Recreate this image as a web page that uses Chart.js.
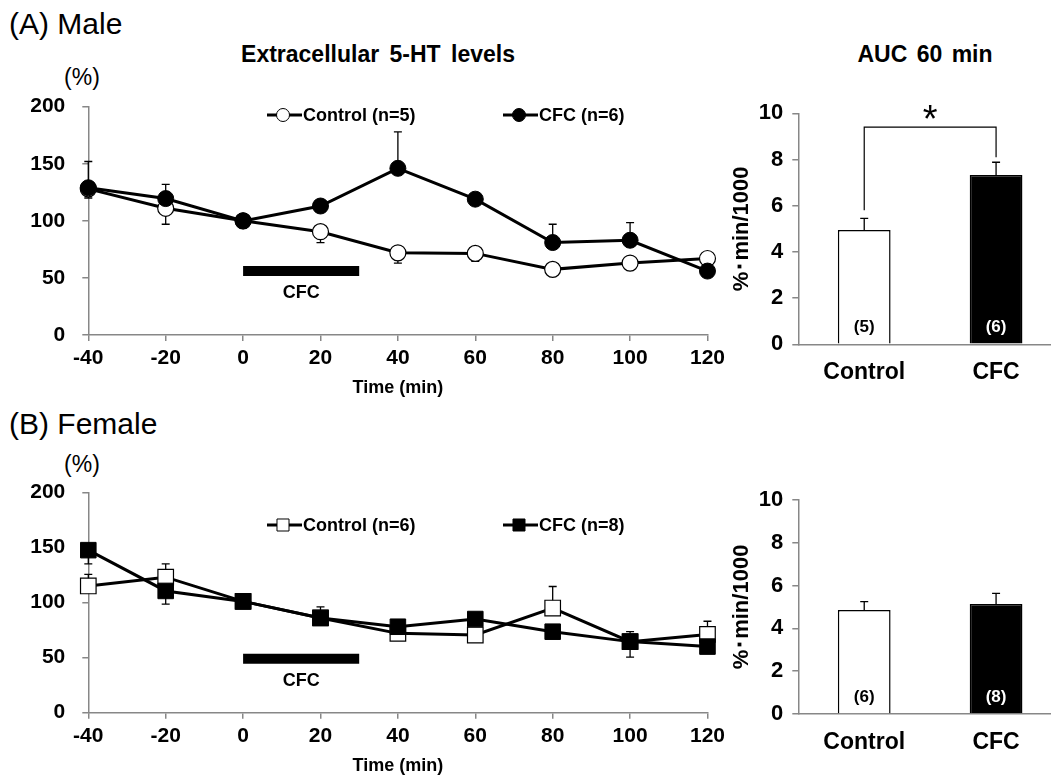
<!DOCTYPE html>
<html>
<head>
<meta charset="utf-8">
<script src="https://cdn.jsdelivr.net/npm/chart.js@4.4.1/dist/chart.umd.min.js"></script>
<style>
html, body { margin: 0; padding: 0; width: 1051px; height: 778px; overflow: hidden; background: #fff; }
.box { position: absolute; }
.box canvas { display: block; }
.lbl { position: absolute; font-family: "Liberation Sans", Arial, sans-serif; color: #000; white-space: nowrap; line-height: 1; }
.mid { transform: translate(-50%, -50%); }
</style>
</head>
<body>
<div class="lbl" style="left:9px; top:9px; font-size:30px;">(A) Male</div>
<div class="lbl" style="left:9px; top:409px; font-size:30px;">(B) Female</div>
<div class="lbl mid" style="left:378px; top:54px; font-size:23px; font-weight:bold; word-spacing:4px;">Extracellular 5-HT levels</div>
<div class="lbl mid" style="left:925px; top:54px; font-size:23px; font-weight:bold; word-spacing:3px;">AUC 60 min</div>
<div class="lbl mid" style="left:82px; top:77px; font-size:23px;">(%)</div>
<div class="lbl mid" style="left:82px; top:464px; font-size:23px;">(%)</div>

<div class="box" style="left:0; top:90px;"><canvas id="maleLine" width="730" height="320"></canvas></div>
<div class="box" style="left:715px; top:90px;"><canvas id="maleBar" width="350" height="320"></canvas></div>
<div class="box" style="left:0; top:475px;"><canvas id="femaleLine" width="730" height="303"></canvas></div>
<div class="box" style="left:715px; top:475px;"><canvas id="femaleBar" width="350" height="303"></canvas></div>

<script>
// sampling times (min)
const times = [-40, -20, 0, 20, 40, 60, 80, 100, 120];

// extracellular 5-HT, % of baseline. error arrays: SEM, sign = direction the bar is drawn
const maleControl = [128, 111, 100, 90.5, 72, 71.5, 57.5, 63, 67];
const maleControlErr = [-8, -14, 0, -9.5, -9, -7, 0, 0, 0];
const maleCFC = [129, 119.5, 100, 113, 146, 119, 81, 83, 56];
const maleCFCErr = [23, 12.5, 2, 3, 32, 4, 16, 15.5, 3];

const femaleControl = [115, 123, 101, 86, 72, 70.5, 95, 64.5, 71];
const femaleControlErr = [10.5, 12, 0, 10, 0, 0, 19.5, -14, 12];
const femaleCFC = [147.5, 110.5, 101, 86, 78, 85, 73.5, 64.5, 60];
const femaleCFCErr = [-12.5, -12, 0, 0, 0, 0, 0, 9, 0];

// CFC exposure period
const cfcPeriod = [0, 30];
const maleCfcLevel = 56;
const femaleCfcLevel = 49;

// AUC 60 min (%·min/1000)
const groups = ['Control', 'CFC'];
const maleAUC = [4.95, 7.33];
const maleAUCErr = [0.5, 0.55];
const maleN = ['(5)', '(6)'];
const femaleAUC = [4.86, 5.14];
const femaleAUCErr = [0.39, 0.5];
const femaleN = ['(6)', '(8)'];

const fam = '"Liberation Sans", Arial, sans-serif';
const gray = '#878787';

function pts(vals) {
  return times.map((t, i) => ({ x: t, y: vals[i] }));
}

// error bars behind the markers
const errorBars = {
  id: 'errorBars',
  beforeDatasetsDraw(chart) {
    const ctx = chart.ctx;
    const ys = chart.scales.y;
    chart.data.datasets.forEach((ds, i) => {
      if (!ds.errors) return;
      const meta = chart.getDatasetMeta(i);
      ctx.save();
      ctx.strokeStyle = '#000';
      ctx.lineWidth = 1.3;
      meta.data.forEach((el, j) => {
        const e = ds.errors[j];
        if (!e) return;
        const d = ds.data[j];
        const v = typeof d === 'object' ? d.y : d;
        const y1 = ys.getPixelForValue(v + e);
        ctx.beginPath();
        ctx.moveTo(el.x, el.y);
        ctx.lineTo(el.x, y1);
        ctx.moveTo(el.x - 4, y1);
        ctx.lineTo(el.x + 4, y1);
        ctx.stroke();
      });
      ctx.restore();
    });
  }
};

// legend drawn inside the plot, like the original
const inlineLegend = {
  id: 'inlineLegend',
  afterDraw(chart, args, opts) {
    if (!opts.items) return;
    const ctx = chart.ctx;
    opts.items.forEach(it => {
      const ds = chart.data.datasets[it.ds];
      ctx.save();
      ctx.strokeStyle = '#000';
      ctx.lineWidth = 3;
      ctx.beginPath();
      ctx.moveTo(it.x, opts.y);
      ctx.lineTo(it.x + 35, opts.y);
      ctx.stroke();
      ctx.fillStyle = ds.pointBackgroundColor;
      ctx.strokeStyle = '#000';
      ctx.lineWidth = 1;
      Chart.helpers.drawPoint(ctx, {
        pointStyle: ds.pointStyle,
        rotation: 0,
        radius: opts.radius,
        borderWidth: 1
      }, it.x + 16, opts.y);
      ctx.fillStyle = '#000';
      ctx.font = 'bold 18px ' + fam;
      ctx.textAlign = 'left';
      ctx.textBaseline = 'middle';
      ctx.fillText(ds.label, it.x + 36, opts.y + 1);
      ctx.restore();
    });
  }
};

// "CFC" under the exposure bar
const periodLabel = {
  id: 'periodLabel',
  afterDatasetsDraw(chart) {
    chart.data.datasets.forEach((ds, i) => {
      if (!ds.periodText) return;
      const p = chart.getDatasetMeta(i).data;
      const ctx = chart.ctx;
      ctx.save();
      ctx.fillStyle = '#000';
      ctx.font = 'bold 18px ' + fam;
      ctx.textAlign = 'center';
      ctx.textBaseline = 'middle';
      ctx.fillText(ds.periodText, (p[0].x + p[1].x) / 2, p[0].y + 22);
      ctx.restore();
    });
  }
};

// n labels inside bars and the significance bracket
const barNotes = {
  id: 'barNotes',
  afterDatasetsDraw(chart, args, opts) {
    const ctx = chart.ctx;
    const ys = chart.scales.y;
    const meta = chart.getDatasetMeta(0);
    ctx.save();
    ctx.font = 'bold 17px ' + fam;
    ctx.textAlign = 'center';
    ctx.textBaseline = 'middle';
    meta.data.forEach((el, j) => {
      ctx.fillStyle = opts.textColors[j];
      ctx.fillText(opts.n[j], el.x, ys.getPixelForValue(0) - 17);
    });
    if (opts.bracket) {
      const b = opts.bracket;
      const xa = meta.data[0].x, xb = meta.data[1].x;
      const yt = ys.getPixelForValue(b.top);
      ctx.strokeStyle = '#000';
      ctx.lineWidth = 1.2;
      ctx.beginPath();
      ctx.moveTo(xa, ys.getPixelForValue(b.from));
      ctx.lineTo(xa, yt);
      ctx.lineTo(xb, yt);
      ctx.lineTo(xb, ys.getPixelForValue(b.to));
      ctx.stroke();
      ctx.fillStyle = '#000';
      ctx.font = '38px ' + fam;
      ctx.fillText('*', (xa + xb) / 2, yt - 6);
    }
    ctx.restore();
  }
};

function axisStyle(extra) {
  return Object.assign({
    grid: { drawOnChartArea: false, color: gray, lineWidth: 1.5, tickLength: 6 },
    border: { color: gray, width: 1.5 }
  }, extra);
}

// fixed axis width, and no extra space reserved for the end labels
function fixWidth(w) {
  return s => { s.width = w; s.paddingTop = 0; s.paddingBottom = 0; };
}

function lineChart(id, ctrl, ctrlErr, cfc, cfcErr, ctrlLabel, cfcLabel, style, radius, level, legendY, legendR, pad) {
  return new Chart(document.getElementById(id), {
    type: 'line',
    data: {
      datasets: [
        {
          label: cfcLabel,
          data: pts(cfc),
          errors: cfcErr,
          borderColor: '#000',
          borderWidth: 3,
          pointStyle: style,
          pointRadius: radius,
          pointBackgroundColor: '#000',
          pointBorderColor: '#000',
          pointBorderWidth: 1,
          clip: false,
          order: 0
        },
        {
          label: ctrlLabel,
          data: pts(ctrl),
          errors: ctrlErr,
          borderColor: '#000',
          borderWidth: 3,
          pointStyle: style,
          pointRadius: radius,
          pointBackgroundColor: '#fff',
          pointBorderColor: '#000',
          pointBorderWidth: 1.2,
          clip: false,
          order: 1
        },
        {
          label: 'CFC exposure',
          data: cfcPeriod.map(t => ({ x: t, y: level })),
          periodText: 'CFC',
          borderColor: '#000',
          borderWidth: 10,
          borderCapStyle: 'butt',
          pointRadius: 0,
          order: 2
        }
      ]
    },
    options: {
      responsive: false,
      animation: false,
      events: [],
      layout: { padding: pad },
      scales: {
        x: axisStyle({
          type: 'linear',
          min: -40,
          max: 120,
          ticks: { stepSize: 20, color: '#000', font: { family: fam, size: 21, weight: 'bold' }, padding: 5, maxRotation: 0 },
          title: { display: true, text: 'Time (min)', color: '#000', font: { family: fam, size: 18, weight: 'bold' }, padding: 0 },
          afterFit: s => { s.height = 64; }
        }),
        y: axisStyle({
          min: 0,
          max: 200,
          ticks: { stepSize: 50, color: '#000', font: { family: fam, size: 21, weight: 'bold' }, padding: 17 },
          afterFit: fixWidth(80)
        })
      },
      plugins: {
        legend: { display: false },
        tooltip: { enabled: false },
        inlineLegend: { y: legendY, radius: legendR, items: [{ ds: 1, x: 267 }, { ds: 0, x: 503 }] }
      }
    },
    plugins: [errorBars, inlineLegend, periodLabel]
  });
}

function barChart(id, vals, errs, n, bracket, pad) {
  return new Chart(document.getElementById(id), {
    type: 'bar',
    data: {
      labels: groups,
      datasets: [{
        data: vals,
        errors: errs,
        backgroundColor: ['#fff', '#000'],
        borderColor: '#000',
        borderWidth: 1.5,
        barPercentage: 0.5,
        categoryPercentage: 0.8
      }]
    },
    options: {
      responsive: false,
      animation: false,
      events: [],
      layout: { padding: pad },
      scales: {
        x: {
          grid: { display: false, drawTicks: false, tickLength: 0 },
          border: { color: gray, width: 1.5 },
          ticks: { color: '#000', font: { family: fam, size: 23, weight: 'bold' }, padding: 15 },
          afterFit: s => { s.height = 60; }
        },
        y: axisStyle({
          min: 0,
          max: 10,
          ticks: { stepSize: 2, color: '#000', font: { family: fam, size: 22, weight: 'bold' }, padding: 9 },
          title: { display: true, text: '%･min/1000', color: '#000', font: { family: fam, size: 22, weight: 'bold' }, padding: { top: 10, bottom: 0 } },
          afterFit: fixWidth(80)
        })
      },
      plugins: {
        legend: { display: false },
        tooltip: { enabled: false },
        barNotes: { n: n, textColors: ['#000', '#fff'], bracket: bracket }
      }
    },
    plugins: [errorBars, barNotes]
  });
}

lineChart('maleLine', maleControl, maleControlErr, maleCFC, maleCFCErr,
  'Control (n=5)', 'CFC (n=6)', 'circle', 8, maleCfcLevel, 25, 6.5,
  { left: 8.3, right: 20.5, top: 16.7, bottom: 11 });
lineChart('femaleLine', femaleControl, femaleControlErr, femaleCFC, femaleCFCErr,
  'Control (n=6)', 'CFC (n=8)', 'rect', 11, femaleCfcLevel, 50, 8.5,
  { left: 8.3, right: 20.5, top: 17.3, bottom: 1.3 });

barChart('maleBar', maleAUC, maleAUCErr, maleN, { from: 5.8, top: 9.4, to: 8.1 },
  { left: 3.3, right: 3, top: 23.3, bottom: 5.7 });
barChart('femaleBar', femaleAUC, femaleAUCErr, femaleN, null,
  { left: 3.3, right: 3, top: 25, bottom: 4 });
</script>
</body>
</html>
